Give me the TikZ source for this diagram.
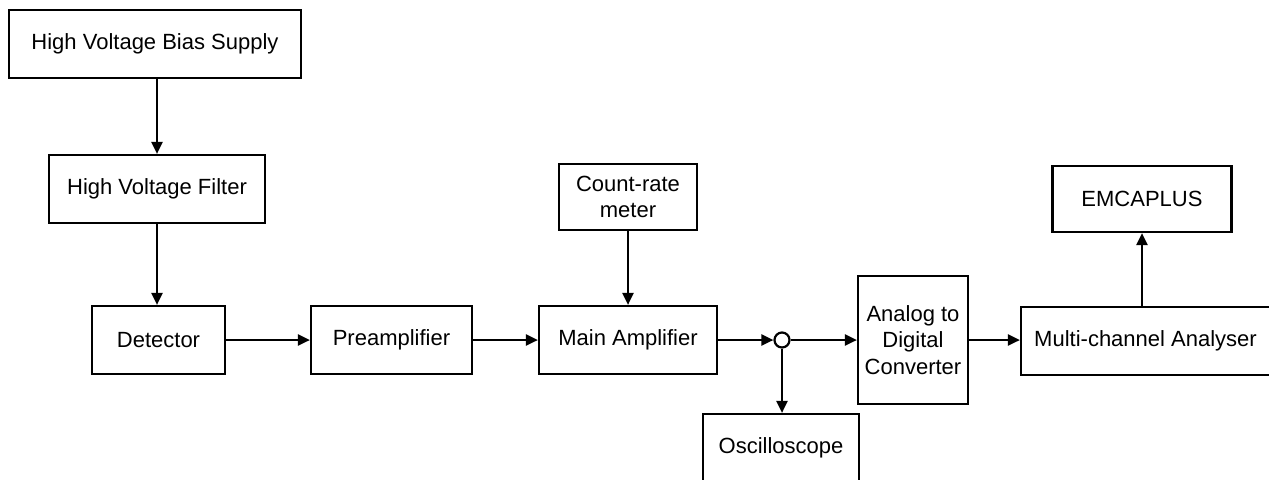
\documentclass[tikz,border=0pt]{standalone}
\usepackage{fontspec}
\setmainfont{Liberation Sans}
\usetikzlibrary{arrows.meta}

\begin{document}
\begin{tikzpicture}[x=0.5pt, y=-0.5pt,
    block/.style={draw, line width=1.1pt, inner sep=0pt, align=center,
      font=\fontsize{11}{13.3}\selectfont},
    link/.style={line width=1.1pt, -{Triangle[length=6pt,width=5.5pt]}}]
  \useasboundingbox (0,0) rectangle (1269,479);

  % blocks
  \node[block, minimum width=146pt, minimum height=34pt] (bias) at (155,44) {High Voltage Bias Supply};
  \node[block, minimum width=108pt, minimum height=34pt] (filter) at (157,189) {High Voltage Filter};
  \node[block, minimum width=66.5pt, minimum height=34pt] (detector) at (158.5,340) {Detector};
  \node[block, minimum width=80.5pt, minimum height=34pt] (preamp) at (391.5,340) {Preamplifier};
  \node[block, minimum width=89pt, minimum height=34pt] (mainamp) at (628,340) {Main Amplifier};
  \node[block, minimum width=69pt, minimum height=33pt] (ratemeter) at (628,197) {Count-rate\\meter};
  \node[draw, circle, line width=1.1pt, minimum size=7.5pt, inner sep=0pt, fill=white] (split) at (782,340) {};
  \node[block, minimum width=78pt, minimum height=34pt] (scope) at (781,448) {Oscilloscope};
  \node[block, minimum width=55pt, minimum height=64pt] (adc) at (913,340) {Analog to\\Digital\\Converter};
  \node[block, minimum width=124.5pt, minimum height=34pt] (mca) at (1145.5,341) {Multi-channel Analyser};
  \node[block, minimum width=89.5pt, minimum height=33pt] (emcaplus) at (1142,199) {EMCAPLUS};

  % signal path
  \draw[link] (bias.south -| filter) -- (filter);
  \draw[link] (filter) -- (filter |- detector.north);
  \draw[link] (detector) -- (preamp);
  \draw[link] (preamp) -- (mainamp);
  \draw[link] (ratemeter) -- (ratemeter |- mainamp.north);
  \draw[link] (mainamp) -- (split);
  \draw[link] (split) -- (adc);
  \draw[link] (split) -- (split |- scope.north);
  \draw[link] (adc) -- (adc -| mca.west);
  \draw[link] (mca.north -| emcaplus) -- (emcaplus);

\end{tikzpicture}
\end{document}
